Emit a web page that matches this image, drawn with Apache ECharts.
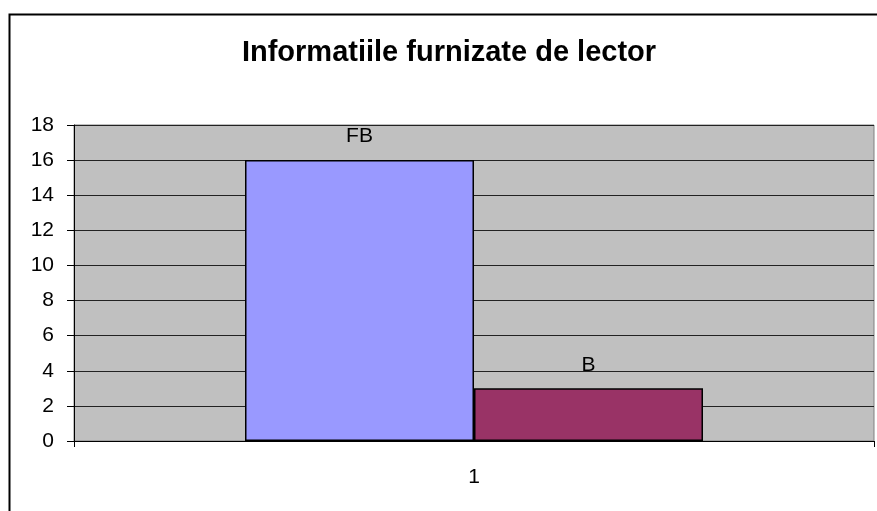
<!DOCTYPE html>
<html><head><meta charset="utf-8">
<script src="https://cdn.jsdelivr.net/npm/echarts@6/dist/echarts.min.js"></script>
<style>html,body{margin:0;padding:0;background:#fff}#c{width:877px;height:511px}</style>
</head><body><div id="c"></div>
<script>
const title = 'Informatiile furnizate de lector';
const categories = ['1'];
const seriesNames = ['FB', 'B'];
const fbValues = [16];
const bValues = [3];

const chart = echarts.init(document.getElementById('c'), null, {renderer: 'canvas'});
const font = 'Arial, "Liberation Sans", sans-serif';
chart.setOption({
  animation: false,
  backgroundColor: '#fff',
  title: {
    text: title, left: 444, top: 33, textAlign: 'center',
    textStyle: {fontFamily: font, fontSize: 29, fontWeight: 'bold', color: '#000'}
  },
  graphic: [{
    type: 'rect', left: 7, top: 12, shape: {width: 900, height: 520},
    style: {fill: 'none', stroke: '#000', lineWidth: 2}, silent: true, z: 100
  }],
  grid: {
    left: 74, right: 3, top: 125, bottom: 70, show: true,
    backgroundColor: '#c0c0c0', borderColor: '#808080', borderWidth: 1
  },
  xAxis: {
    type: 'category', data: categories,
    axisLine: {lineStyle: {color: '#000', width: 1}},
    axisTick: {show: true, length: 6, lineStyle: {color: '#000'}},
    axisLabel: {fontFamily: font, fontSize: 21, color: '#000', margin: 26}
  },
  yAxis: {
    type: 'value', min: 0, max: 18, interval: 2,
    axisLine: {show: true, lineStyle: {color: '#000', width: 1}},
    axisTick: {show: true, length: 7, lineStyle: {color: '#000'}},
    axisLabel: {fontFamily: font, fontSize: 21, color: '#000', margin: 20},
    splitLine: {lineStyle: {color: '#222', width: 1}}
  },
  series: [
    {name: seriesNames[0], type: 'bar', data: fbValues, barWidth: 229, barGap: '0%',
     itemStyle: {color: '#9999ff', borderColor: '#000', borderWidth: 1.5},
     label: {show: true, position: 'top', distance: 13, formatter: seriesNames[0],
             fontFamily: font, fontSize: 21, color: '#000'}},
    {name: seriesNames[1], type: 'bar', data: bValues, barWidth: 229, barGap: '0%',
     itemStyle: {color: '#993366', borderColor: '#000', borderWidth: 1.5},
     label: {show: true, position: 'top', distance: 13, formatter: seriesNames[1],
             fontFamily: font, fontSize: 21, color: '#000'}}
  ]
});
</script></body></html>
